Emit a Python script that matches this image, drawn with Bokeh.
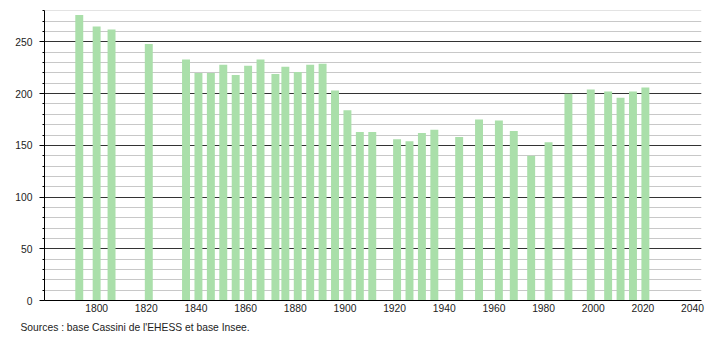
from bokeh.plotting import figure
from bokeh.models import Range1d, FixedTicker, SingleIntervalTicker, Title, ColumnDataSource
from bokeh.embed import file_html
from bokeh.resources import INLINE

years = [1793, 1800, 1806, 1821, 1836, 1841, 1846, 1851, 1856, 1861, 1866, 1872,
         1876, 1881, 1886, 1891, 1896, 1901, 1906, 1911, 1921, 1926, 1931, 1936,
         1946, 1954, 1962, 1968, 1975, 1982, 1990, 1999, 2006, 2011, 2016, 2021]
population = [276, 265, 262, 248, 233, 220, 220, 228, 218, 227, 233, 219,
              226, 221, 228, 229, 203, 184, 163, 163, 156, 154, 162, 165,
              158, 175, 174, 164, 140, 153, 200, 204, 202, 196, 202, 206]
x_ticks = [1800, 1820, 1840, 1860, 1880, 1900, 1920, 1940, 1960, 1980, 2000, 2020, 2040]
source_text = "Sources : base Cassini de l'EHESS et base Insee."

FONT = "Liberation Sans"
FS = "10.3px"

p = figure(width=710, height=340, output_backend="svg", toolbar_location=None,
           x_range=Range1d(1779, 2043.6), y_range=Range1d(0, 280.4),
           min_border_left=44, min_border_right=9, min_border_top=10, min_border_bottom=40)
p.outline_line_color = None
p.background_fill_color = "white"
p.border_fill_color = "white"

src = ColumnDataSource(dict(x=years, top=population))
p.vbar(x="x", top="top", width=3.2, bottom=0, source=src,
       fill_color="#aadfaa", line_color=None)

# grids
p.xgrid.grid_line_color = None
p.ygrid.ticker = SingleIntervalTicker(interval=50, num_minor_ticks=5)
p.ygrid.grid_line_color = "#333333"
p.ygrid.grid_line_width = 1
p.ygrid.minor_grid_line_color = "#c8c8c8"
p.ygrid.minor_grid_line_width = 1

# y axis
ya = p.yaxis[0]
ya.ticker = SingleIntervalTicker(interval=50, num_minor_ticks=5)
ya.axis_line_color = "black"
ya.major_tick_in = 0
ya.major_tick_out = 5
ya.minor_tick_in = 0
ya.minor_tick_out = 2
ya.major_tick_line_color = "black"
ya.minor_tick_line_color = "black"
ya.major_label_standoff = 7
ya.major_label_text_font = FONT
ya.major_label_text_font_size = FS
ya.major_label_text_color = "#222222"

# x axis
xa = p.xaxis[0]
xa.ticker = FixedTicker(ticks=x_ticks)
xa.axis_line_color = "black"
xa.major_tick_in = 0
xa.major_tick_out = 0
xa.minor_tick_line_color = None
xa.major_tick_line_color = None
xa.major_label_standoff = 3
xa.major_label_text_font = FONT
xa.major_label_text_font_size = FS
xa.major_label_text_color = "#222222"

t = Title(text=source_text, align="left", offset=-24, text_font=FONT,
          text_font_size=FS, text_font_style="normal", text_color="#222222")
p.add_layout(t, "below")

open("out.html", "w").write(file_html(p, INLINE))
